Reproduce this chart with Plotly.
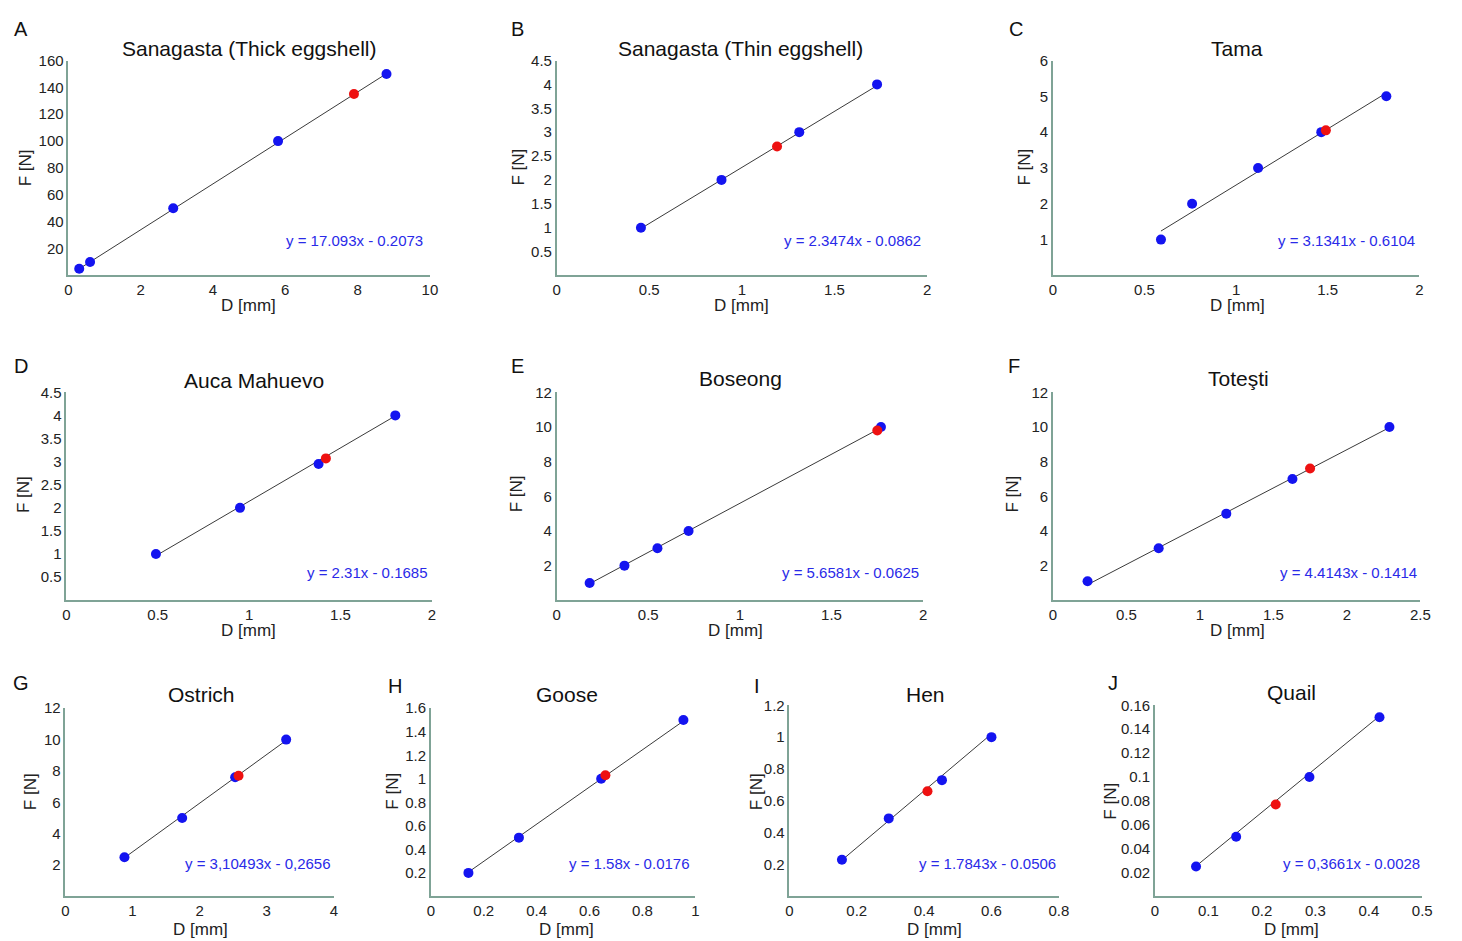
import plotly.graph_objects as go

# ---------------- data ----------------
letters = ["A", "B", "C", "D", "E", "F", "G", "H", "I", "J"]
titles = ["Sanagasta (Thick eggshell)", "Sanagasta (Thin eggshell)", "Tama",
          "Auca Mahuevo", "Boseong", "Toteşti",
          "Ostrich", "Goose", "Hen", "Quail"]

blue_x = [
    [0.3, 0.6, 2.9, 5.8, 8.8],
    [0.455, 0.89, 1.31, 1.73],
    [0.59, 0.76, 1.12, 1.465, 1.82],
    [0.49, 0.95, 1.38, 1.80],
    [0.18, 0.37, 0.55, 0.72, 1.77],
    [0.236, 0.72, 1.18, 1.63, 2.29],
    [0.88, 1.74, 2.53, 3.29],
    [0.142, 0.333, 0.644, 0.955],
    [0.156, 0.295, 0.453, 0.6],
    [0.077, 0.152, 0.289, 0.42],
]
blue_y = [
    [5, 10, 50, 100, 150],
    [1, 2, 3, 4],
    [1, 2, 3, 4, 5],
    [1, 2, 2.95, 4],
    [1, 2, 3, 4, 10],
    [1.1, 3, 5, 7, 10],
    [2.5, 5, 7.6, 10],
    [0.2, 0.5, 1.0, 1.5],
    [0.23, 0.49, 0.73, 1.0],
    [0.025, 0.05, 0.1, 0.15],
]
red_x = [7.9, 1.19, 1.49, 1.42, 1.75, 1.75, 2.58, 0.66, 0.41, 0.226]
red_y = [135, 2.7, 4.05, 3.07, 9.8, 7.6, 7.7, 1.03, 0.66, 0.077]

slopes = [17.093, 2.3474, 3.1341, 2.31, 5.6581, 4.4143, 3.10493, 1.58, 1.7843, 0.3661]
intercepts = [-0.2073, -0.0862, -0.6104, -0.1685, -0.0625, -0.1414, -0.2656, -0.0176, -0.0506, -0.0028]
equations = ["y = 17.093x - 0.2073", "y = 2.3474x - 0.0862", "y = 3.1341x - 0.6104",
             "y = 2.31x - 0.1685", "y = 5.6581x - 0.0625", "y = 4.4143x - 0.1414",
             "y = 3,10493x - 0,2656", "y = 1.58x - 0.0176", "y = 1.7843x - 0.0506",
             "y = 0,3661x - 0.0028"]

x_ticks = [
    [0, 2, 4, 6, 8, 10],
    [0, 0.5, 1, 1.5, 2],
    [0, 0.5, 1, 1.5, 2],
    [0, 0.5, 1, 1.5, 2],
    [0, 0.5, 1, 1.5, 2],
    [0, 0.5, 1, 1.5, 2, 2.5],
    [0, 1, 2, 3, 4],
    [0, 0.2, 0.4, 0.6, 0.8, 1],
    [0, 0.2, 0.4, 0.6, 0.8],
    [0, 0.1, 0.2, 0.3, 0.4, 0.5],
]
y_ticks = [
    [20, 40, 60, 80, 100, 120, 140, 160],
    [0.5, 1, 1.5, 2, 2.5, 3, 3.5, 4, 4.5],
    [1, 2, 3, 4, 5, 6],
    [0.5, 1, 1.5, 2, 2.5, 3, 3.5, 4, 4.5],
    [2, 4, 6, 8, 10, 12],
    [2, 4, 6, 8, 10, 12],
    [2, 4, 6, 8, 10, 12],
    [0.2, 0.4, 0.6, 0.8, 1, 1.2, 1.4, 1.6],
    [0.2, 0.4, 0.6, 0.8, 1, 1.2],
    [0.02, 0.04, 0.06, 0.08, 0.1, 0.12, 0.14, 0.16],
]
x_label = "D [mm]"
y_label = "F [N]"

# ---------------- layout geometry (pixels) ----------------
W, H = 1462, 941
# plot box: left, right, top, bottom
boxes = [
    (65, 430, 52, 269), (558, 932, 52, 269), (1059, 1429, 52, 269),
    (63, 432, 387, 597), (558, 928, 387, 597), (1059, 1430, 387, 597),
    (62, 333, 706, 896), (431, 698, 706, 896), (793, 1065, 703, 896), (1162, 1432, 703, 896),
]
letter_pos = [(17, 20), (518, 20), (1022, 20), (17, 360), (518, 360), (1020, 360),
              (17, 681), (395, 684), (760, 684), (1120, 681)]
title_pos = [(247, 40), (744, 40), (1245, 40), (252, 375), (744, 373), (1246, 373),
             (199, 692), (568, 692), (930, 692), (1300, 690)]
eq_pos = [(425, 234), (928, 234), (1427, 234), (430, 569), (926, 569), (1429, 569),
          (332, 863), (695, 863), (1064, 863), (1432, 863)]
xlab_pos = [(247, 299), (745, 299), (1245, 299), (247, 628), (739, 628), (1245, 628),
            (198, 929), (568, 929), (940, 929), (1300, 929)]
ylab_pos = [(22, 160), (519, 160), (1030, 160), (20, 490), (517, 490), (1018, 490),
            (27, 790), (392, 790), (760, 790), (1117, 800)]

def fx(p):
    return p / W

def fy(p):
    return 1 - p / H

FONT = "Arial, Liberation Sans, sans-serif"
AXIS_COLOR = "#7fa396"
BLUE = "#1414f0"
RED = "#ee1111"

fig = go.Figure()
layout = dict(
    width=W, height=H, autosize=False,
    margin=dict(l=0, r=0, t=0, b=0),
    paper_bgcolor="white", plot_bgcolor="white",
    showlegend=False, font=dict(family=FONT, color="#222"),
    annotations=[],
)

for i in range(10):
    n = "" if i == 0 else str(i + 1)
    xa, ya = "x" + n, "y" + n
    l, r, t, b = boxes[i]
    xs = blue_x[i] + [red_x[i]]
    x_lo, x_hi = min(xs), max(xs)
    fit_x = [x_lo, x_hi]
    fit_y = [slopes[i] * v + intercepts[i] for v in fit_x]
    fig.add_trace(go.Scatter(x=fit_x, y=fit_y, mode="lines",
                             line=dict(color="#3a3a3a", width=1),
                             xaxis=xa, yaxis=ya, hoverinfo="skip"))
    fig.add_trace(go.Scatter(x=blue_x[i], y=blue_y[i], mode="markers",
                             marker=dict(color=BLUE, size=10),
                             xaxis=xa, yaxis=ya))
    fig.add_trace(go.Scatter(x=[red_x[i]], y=[red_y[i]], mode="markers",
                             marker=dict(color=RED, size=10),
                             xaxis=xa, yaxis=ya))
    layout["xaxis" + n] = dict(
        domain=[fx(l), fx(r)], anchor=ya, range=[0, x_ticks[i][-1]],
        tickvals=x_ticks[i], showgrid=False, zeroline=False,
        showline=True, linecolor=AXIS_COLOR, linewidth=1.5, ticks="",
        tickfont=dict(size=15, color="#222", family=FONT),
    )
    layout["yaxis" + n] = dict(
        domain=[fy(b), fy(t)], anchor=xa, range=[0, y_ticks[i][-1]],
        tickvals=y_ticks[i], showgrid=False, zeroline=False,
        showline=True, linecolor=AXIS_COLOR, linewidth=1.5, ticks="",
        tickfont=dict(size=15, color="#222", family=FONT),
    )
    ann = layout["annotations"]
    ann.append(dict(text=letters[i], x=fx(letter_pos[i][0]), y=fy(letter_pos[i][1]),
                    xref="paper", yref="paper", showarrow=False,
                    xanchor="center", yanchor="middle",
                    font=dict(size=20, color="#111", family=FONT)))
    ann.append(dict(text=titles[i], x=fx(title_pos[i][0]), y=fy(title_pos[i][1]),
                    xref="paper", yref="paper", showarrow=False,
                    xanchor="center", yanchor="middle",
                    font=dict(size=21, color="#111", family=FONT)))
    ann.append(dict(text=equations[i], x=fx(eq_pos[i][0]), y=fy(eq_pos[i][1]),
                    xref="paper", yref="paper", showarrow=False,
                    xanchor="right", yanchor="middle",
                    font=dict(size=15, color="#2a2ae8", family=FONT)))
    ann.append(dict(text=x_label, x=fx(xlab_pos[i][0]), y=fy(xlab_pos[i][1]),
                    xref="paper", yref="paper", showarrow=False,
                    xanchor="center", yanchor="middle",
                    font=dict(size=17, color="#222", family=FONT)))
    ann.append(dict(text=y_label, x=fx(ylab_pos[i][0]), y=fy(ylab_pos[i][1]),
                    xref="paper", yref="paper", showarrow=False, textangle=-90,
                    xanchor="center", yanchor="middle",
                    font=dict(size=17, color="#222", family=FONT)))

fig.update_layout(**layout)
fig.write_html("out.html",
               config={"displayModeBar": False},
               post_script="document.body.style.margin='0';document.body.style.overflow='hidden';")
